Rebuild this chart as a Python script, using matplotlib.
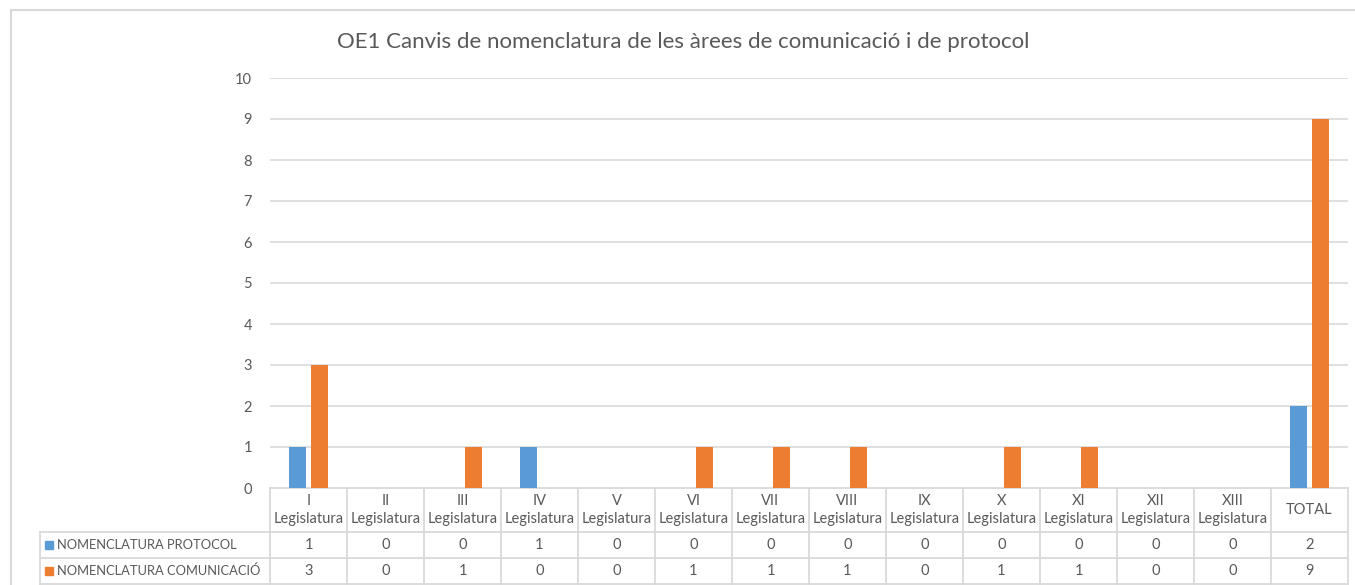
import numpy as np
from matplotlib import pyplot as plt
from matplotlib.lines import Line2D
from matplotlib.patches import Rectangle

plt.rcParams['font.family'] = ['Lato', 'DejaVu Sans']

categories = ['I\nLegislatura', 'II\nLegislatura', 'III\nLegislatura', 'IV\nLegislatura',
              'V\nLegislatura', 'VI\nLegislatura', 'VII\nLegislatura', 'VIII\nLegislatura',
              'IX\nLegislatura', 'X\nLegislatura', 'XI\nLegislatura', 'XII\nLegislatura',
              'XIII\nLegislatura', 'TOTAL']
series_names = ['NOMENCLATURA PROTOCOL', 'NOMENCLATURA COMUNICACIÓ']
protocol = [1, 0, 0, 1, 0, 0, 0, 0, 0, 0, 0, 0, 0, 2]
comunicacio = [3, 0, 1, 0, 0, 1, 1, 1, 0, 1, 1, 0, 0, 9]
colors = ['#5B9BD5', '#ED7D31']
title = 'OE1 Canvis de nomenclatura de les àrees de comunicació i de protocol'

W, H = 1355, 585
text_col = '#595959'
grid_col = '#D9D9D9'

fig = plt.figure(figsize=(W / 100, H / 100), dpi=100)
ax = fig.add_axes([270 / W, 1 - 488 / H, (1348 - 270) / W, (488 - 78) / H])

x = np.arange(len(categories))
ax.bar(x - 0.143, protocol, width=0.22, color=colors[0], zorder=3)
ax.bar(x + 0.143, comunicacio, width=0.22, color=colors[1], zorder=3)

ax.set_xlim(-0.5, len(categories) - 0.5)
ax.set_ylim(0, 10)
ax.set_yticks(range(0, 11))
ax.tick_params(axis='y', length=0, pad=13, labelsize=10.5, labelcolor=text_col)
ax.set_xticks([])
for s in ax.spines.values():
    s.set_visible(False)
for v in range(1, 11):
    ax.axhline(v, color=grid_col, lw=1.2, zorder=1)

# data table under the axis
tr = ax.get_xaxis_transform()
ah = 488 - 78
y_hdr = -(532 - 488) / ah
y_r1 = -(558 - 488) / ah
y_r2 = -(584 - 488) / ah
x_lab = -0.5 - (270 - 40) / 77.0

kw = dict(color=grid_col, lw=1.3, transform=tr, clip_on=False, zorder=2)
ax.plot([-0.5, len(categories) - 0.5], [0, 0], **kw)
for yy in (y_hdr, y_r1, y_r2):
    ax.plot([x_lab, len(categories) - 0.5], [yy, yy], **kw)
for k in range(len(categories) + 1):
    ax.plot([k - 0.5, k - 0.5], [0, y_r2], **kw)
ax.plot([x_lab, x_lab], [y_hdr, y_r2], **kw)

tkw = dict(transform=tr, ha='center', va='center', fontsize=10.5, color=text_col, zorder=5)
for i, cat in enumerate(categories):
    ax.text(i, y_hdr / 2, cat, linespacing=1.3, **tkw)
    ax.text(i, (y_hdr + y_r1) / 2, str(protocol[i]), **tkw)
    ax.text(i, (y_r1 + y_r2) / 2, str(comunicacio[i]), **tkw)

for j, (name, c) in enumerate(zip(series_names, colors)):
    yc = (y_hdr + y_r1) / 2 if j == 0 else (y_r1 + y_r2) / 2
    ypix = 488 - yc * ah
    fig.add_artist(Rectangle((45 / W, 1 - (ypix + 4) / H), 8 / W, 8 / H,
                             color=c, transform=fig.transFigure))
    ax.text(x_lab + 17 / 77.0, yc, name, transform=tr, ha='left', va='center',
            fontsize=9.3, color=text_col, zorder=5)

# chart border
fig.add_artist(Line2D([11 / W, 11 / W], [0, 1 - 10 / H], color=grid_col, lw=1.5))
fig.add_artist(Line2D([11 / W, 1], [1 - 10 / H, 1 - 10 / H], color=grid_col, lw=1.5))

fig.text(683 / W, 1 - 42 / H, title, ha='center', va='center', fontsize=16,
         color=text_col)

fig.savefig('out.png', dpi=100)
